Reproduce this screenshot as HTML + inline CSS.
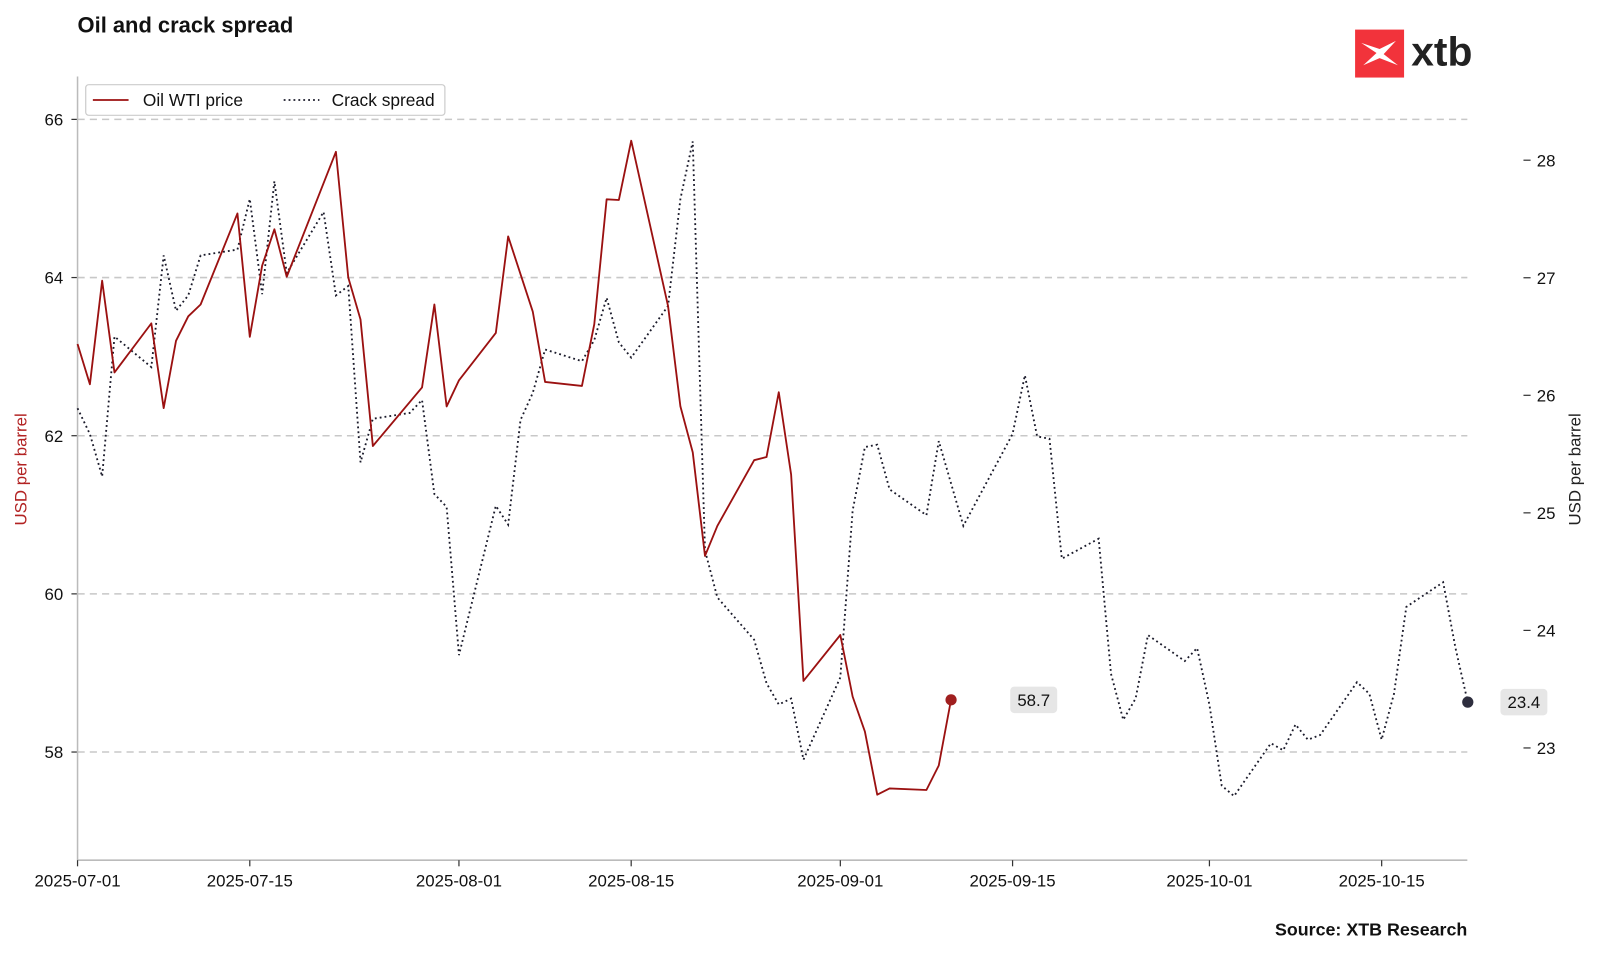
<!DOCTYPE html>
<html><head><meta charset="utf-8">
<style>
html,body{margin:0;padding:0;background:#fff;}
body{width:1600px;height:955px;overflow:hidden;font-family:"Liberation Sans",Arial,sans-serif;}
svg text{font-family:"Liberation Sans",Arial,sans-serif;}
</style></head>
<body>
<svg id="chart" width="1600" height="955" viewBox="0 0 1600 955" xmlns="http://www.w3.org/2000/svg">
<g transform="scale(1.0204)">
  <text x="76" y="32" font-size="21.5" font-weight="bold" fill="#111">Oil and crack spread</text>
  <g>
    <rect x="1328" y="29" width="48" height="47" fill="#f2333b"/>
    <path d="M1334 42 L1349 52 L1336 64 L1352 57 L1370 64 L1356 53 L1368 40 L1352 48 Z" fill="#fff"/>
    <text x="1383" y="64" font-size="40" font-weight="bold" fill="#222">xtb</text>
  </g>
  <g id="grid"></g>
  <g id="axes"></g>
  <g id="series"></g>
  <g>
    <rect x="84" y="83" width="352" height="30" rx="3" fill="#fff" stroke="#ccc" stroke-width="1.2"/>
    <line x1="91" y1="98" x2="126" y2="98" stroke="#9b1111" stroke-width="1.8"/>
    <text x="140" y="104" font-size="17" fill="#111">Oil WTI price</text>
    <line x1="278" y1="98" x2="313" y2="98" stroke="#1a1a2a" stroke-width="1.8" stroke-dasharray="1.8,3"/>
    <text x="325" y="104" font-size="17" fill="#111">Crack spread</text>
  </g>
  <text transform="translate(26,460) rotate(-90)" text-anchor="middle" font-size="16.5" fill="#b22222">USD per barrel</text>
  <text transform="translate(1549,460) rotate(-90)" text-anchor="middle" font-size="16.5" fill="#222">USD per barrel</text>
  <text x="1438" y="917" text-anchor="end" font-size="17.5" font-weight="bold" fill="#111">Source: XTB Research</text>
</g>
</svg>
<script>
const oilDays=[0,1,2,3,6,7,8,9,10,13,14,15,16,17,21,22,23,24,28,29,30,31,34,35,37,38,41,42,43,44,45,48,49,50,51,52,55,56,57,58,59,62,63,64,65,66,69,70,71];
const oilValues=[63.16,62.65,63.96,62.80,63.42,62.35,63.20,63.51,63.66,64.81,63.25,64.15,64.61,64.01,65.59,64.00,63.47,61.87,62.61,63.66,62.37,62.70,63.30,64.52,63.57,62.68,62.63,63.41,64.99,64.98,65.73,63.64,62.37,61.79,60.48,60.86,61.69,61.73,62.55,61.51,58.90,59.48,58.70,58.26,57.46,57.54,57.52,57.83,58.66];
const crackDays=[0,1,2,3,6,7,8,9,10,13,14,15,16,17,20,21,22,23,24,27,28,29,30,31,34,35,36,37,38,41,42,43,44,45,48,49,50,51,52,55,56,57,58,59,62,63,64,65,66,69,70,72,76,77,78,79,80,83,84,85,86,87,90,91,92,93,94,97,98,99,100,101,104,105,106,107,108,109,111,112,113];
const crackValues=[25.89,25.67,25.31,26.50,26.24,27.19,26.72,26.85,27.19,27.24,27.67,26.86,27.82,27.04,27.56,26.85,26.93,25.43,25.80,25.85,25.96,25.16,25.05,23.79,25.06,24.90,25.79,26.02,26.39,26.29,26.47,26.83,26.45,26.32,26.76,27.67,28.16,24.68,24.28,23.92,23.55,23.37,23.42,22.90,23.60,25.02,25.56,25.58,25.20,24.98,25.61,24.89,25.67,26.17,25.65,25.63,24.61,24.78,23.63,23.24,23.42,23.96,23.74,23.85,23.37,22.68,22.59,23.04,22.98,23.20,23.07,23.11,23.56,23.46,23.07,23.46,24.20,24.27,24.41,23.85,23.39];
const leftTicks=[58,60,62,64,66];
const rightTicks=[23,24,25,26,27,28];
const xTickLabels=["2025-07-01","2025-07-15","2025-08-01","2025-08-15","2025-09-01","2025-09-15","2025-10-01","2025-10-15"];
const xTickDays=[0,14,31,45,62,76,92,106];

const NS="http://www.w3.org/2000/svg";
const X0=76,PX=12.057;
const xs=d=>X0+d*PX;
const yL=v=>117+(66-v)*77.5;
const yR=v=>157+(28-v)*115.2;
function mk(tag,attrs,parent){const e=document.createElementNS(NS,tag);for(const k in attrs)e.setAttribute(k,attrs[k]);parent.appendChild(e);return e;}
const grid=document.getElementById('grid'),axes=document.getElementById('axes'),ser=document.getElementById('series');

leftTicks.forEach(v=>{
  const l=mk('line',{x1:76,x2:1438,y1:yL(v),y2:yL(v),stroke:'#c8c8c8','stroke-width':1.5,'stroke-dasharray':'7,5'},grid);
  
  
  mk('line',{x1:70,x2:76,y1:yL(v),y2:yL(v),stroke:'#333','stroke-width':1.2},axes);
  const t=mk('text',{x:62,y:yL(v)+6,'text-anchor':'end','font-size':16.5,fill:'#111'},axes);
  t.textContent=v;
  
  
});
rightTicks.forEach(v=>{
  mk('line',{x1:1493,x2:1500,y1:yR(v),y2:yR(v),stroke:'#333','stroke-width':1.2},axes);
  const t=mk('text',{x:1506,y:yR(v)+6,'font-size':16.5,fill:'#111'},axes);
  t.textContent=v;
  
  
});
mk('line',{x1:76,x2:76,y1:75,y2:843,stroke:'#bbb','stroke-width':1.5},axes);
mk('line',{x1:76,x2:1438,y1:843,y2:843,stroke:'#bbb','stroke-width':1.5},axes);
xTickDays.forEach((d,i)=>{
  mk('line',{x1:xs(d),x2:xs(d),y1:843,y2:849,stroke:'#333','stroke-width':1.2},axes);
  const t=mk('text',{x:xs(d),y:869,'text-anchor':'middle','font-size':16.5,fill:'#111'},axes);
  t.textContent=xTickLabels[i];
  
  
});

const crackPts=crackDays.map((d,i)=>xs(d).toFixed(1)+','+yR(crackValues[i]).toFixed(1)).join(' ');
const cl=mk('polyline',{points:crackPts,fill:'none',stroke:'#1a1a2a','stroke-width':1.8,'stroke-dasharray':'1.8,3'},ser);


const oilPts=oilDays.map((d,i)=>xs(d).toFixed(1)+','+yL(oilValues[i]).toFixed(1)).join(' ');
const ol=mk('polyline',{points:oilPts,fill:'none',stroke:'#9b1111','stroke-width':1.8,'stroke-linejoin':'round'},ser);



function endLabel(x,y,val,color,lx,name){
  const c=mk('circle',{cx:x,cy:y,r:5.5,fill:color},ser);
  
  
  mk('rect',{x:lx-23,y:y-13,width:46,height:26,rx:4,fill:'#e6e6e6'},ser);
  const t=mk('text',{x:lx,y:y+6,'text-anchor':'middle','font-size':16.5,fill:'#111'},ser);
  t.textContent=val.toFixed(1);
  
  
}
const lo=oilValues.length-1, lc=crackValues.length-1;
endLabel(xs(oilDays[lo]),yL(oilValues[lo]),oilValues[lo],'#a01f1f',xs(oilDays[lo])+81,'oil');
endLabel(xs(crackDays[lc]),yR(crackValues[lc]),crackValues[lc],'#2e2e3e',xs(crackDays[lc])+55,'crack');
</script>
</body></html>
